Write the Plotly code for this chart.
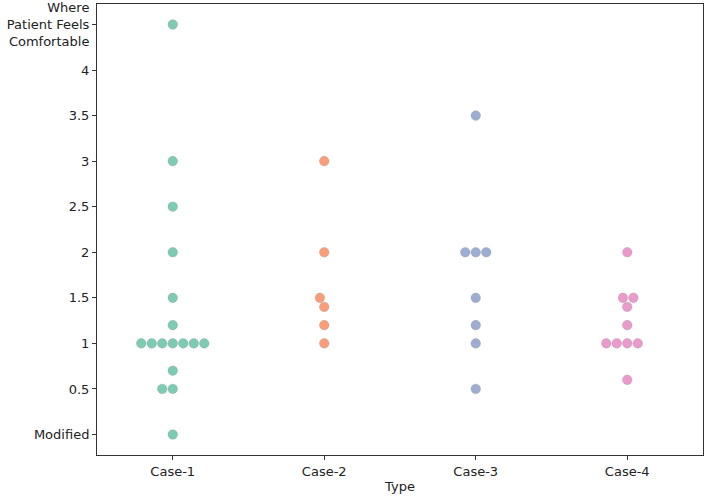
import numpy as np
import plotly.graph_objects as go

categories = ["Case-1", "Case-2", "Case-3", "Case-4"]
case1 = [4.5, 3, 2.5, 2, 1.5, 1.2, 1, 1, 1, 1, 1, 1, 1, 0.7, 0.5, 0.5, 0]
case2 = [3, 2, 1.5, 1.4, 1.2, 1]
case3 = [3.5, 2, 2, 2, 1.5, 1.2, 1, 0.5]
case4 = [2, 1.5, 1.5, 1.4, 1.2, 1, 1, 1, 1, 0.6]
series = [case1, case2, case3, case4]
colors = ["#66c2a5", "#fc8d62", "#8da0cb", "#e78ac3"]

ytick_vals = [0, 0.5, 1, 1.5, 2, 2.5, 3, 3.5, 4, 4.5]
ytick_text = ["Modified", "0.5", "1", "1.5", "2", "2.5", "3", "3.5", "4",
              "Where<br>Patient Feels<br>Comfortable"]

W, H = 706, 502
ML, MR, MT, MB = 97, 3, 4, 47
yrange = [-0.225, 4.725]
xrange_ = [-0.5, 3.5]
xpu = (W - ML - MR) / (xrange_[1] - xrange_[0])
ypu = (H - MT - MB) / (yrange[1] - yrange[0])
D = 10.0  # marker diameter in px


def swarm_offsets(values):
    vals = np.asarray(values, dtype=float)
    ypx = vals * ypu
    order = np.argsort(ypx, kind="stable")
    placed = []
    offs = np.zeros(len(vals))
    for k, i in enumerate(order):
        y = ypx[i]
        if k == 0:
            placed.append((0.0, y))
            continue
        neighbors = []
        for (xj, yj) in reversed(placed):
            if y - yj < D:
                neighbors.append((xj, yj))
            else:
                break
        neighbors = list(reversed(neighbors))
        cands = [0.0]
        left_first = True
        for (xj, yj) in neighbors:
            dy = y - yj
            dx = np.sqrt(max(D * D - dy * dy, 0)) * 1.05
            cl, cr = xj - dx, xj + dx
            cands.extend([cl, cr] if left_first else [cr, cl])
            left_first = not left_first
        cands = sorted(cands, key=lambda c: abs(c))
        chosen = cands[-1]
        for c in cands:
            if all((c - xj) ** 2 + (y - yj) ** 2 >= D * D * 0.999 for (xj, yj) in neighbors):
                chosen = c
                break
        placed.append((chosen, y))
        offs[i] = chosen
    return offs / xpu


fig = go.Figure()
for idx, (vals, col) in enumerate(zip(series, colors)):
    offs = swarm_offsets(vals)
    fig.add_trace(go.Scatter(
        x=idx + offs, y=vals, mode="markers",
        marker=dict(size=9.6, color=col, opacity=0.85,
                    line=dict(width=0.5, color="rgba(120,120,120,0.6)")),
        showlegend=False, hoverinfo="skip",
    ))

font = dict(family="DejaVu Sans", size=13, color="#222222")
fig.update_layout(
    width=W, height=H,
    margin=dict(l=ML, r=MR, t=MT, b=MB),
    plot_bgcolor="white", paper_bgcolor="white",
    font=font,
    xaxis=dict(
        range=xrange_, tickmode="array", tickvals=list(range(len(categories))),
        ticktext=categories, showgrid=False, zeroline=False,
        showline=True, linecolor="#333333", linewidth=1, mirror=True,
        ticks="outside", ticklen=4, tickwidth=1, tickcolor="#333333",
        title=dict(text="Type", standoff=4, font=font), automargin=False,
    ),
    yaxis=dict(
        range=yrange, tickmode="array", tickvals=ytick_vals, ticktext=ytick_text,
        showgrid=False, zeroline=False,
        showline=True, linecolor="#333333", linewidth=1, mirror=True,
        ticks="outside", ticklen=4, tickwidth=1, tickcolor="#333333",
        automargin=False,
    ),
)
fig.write_html("out.html")
